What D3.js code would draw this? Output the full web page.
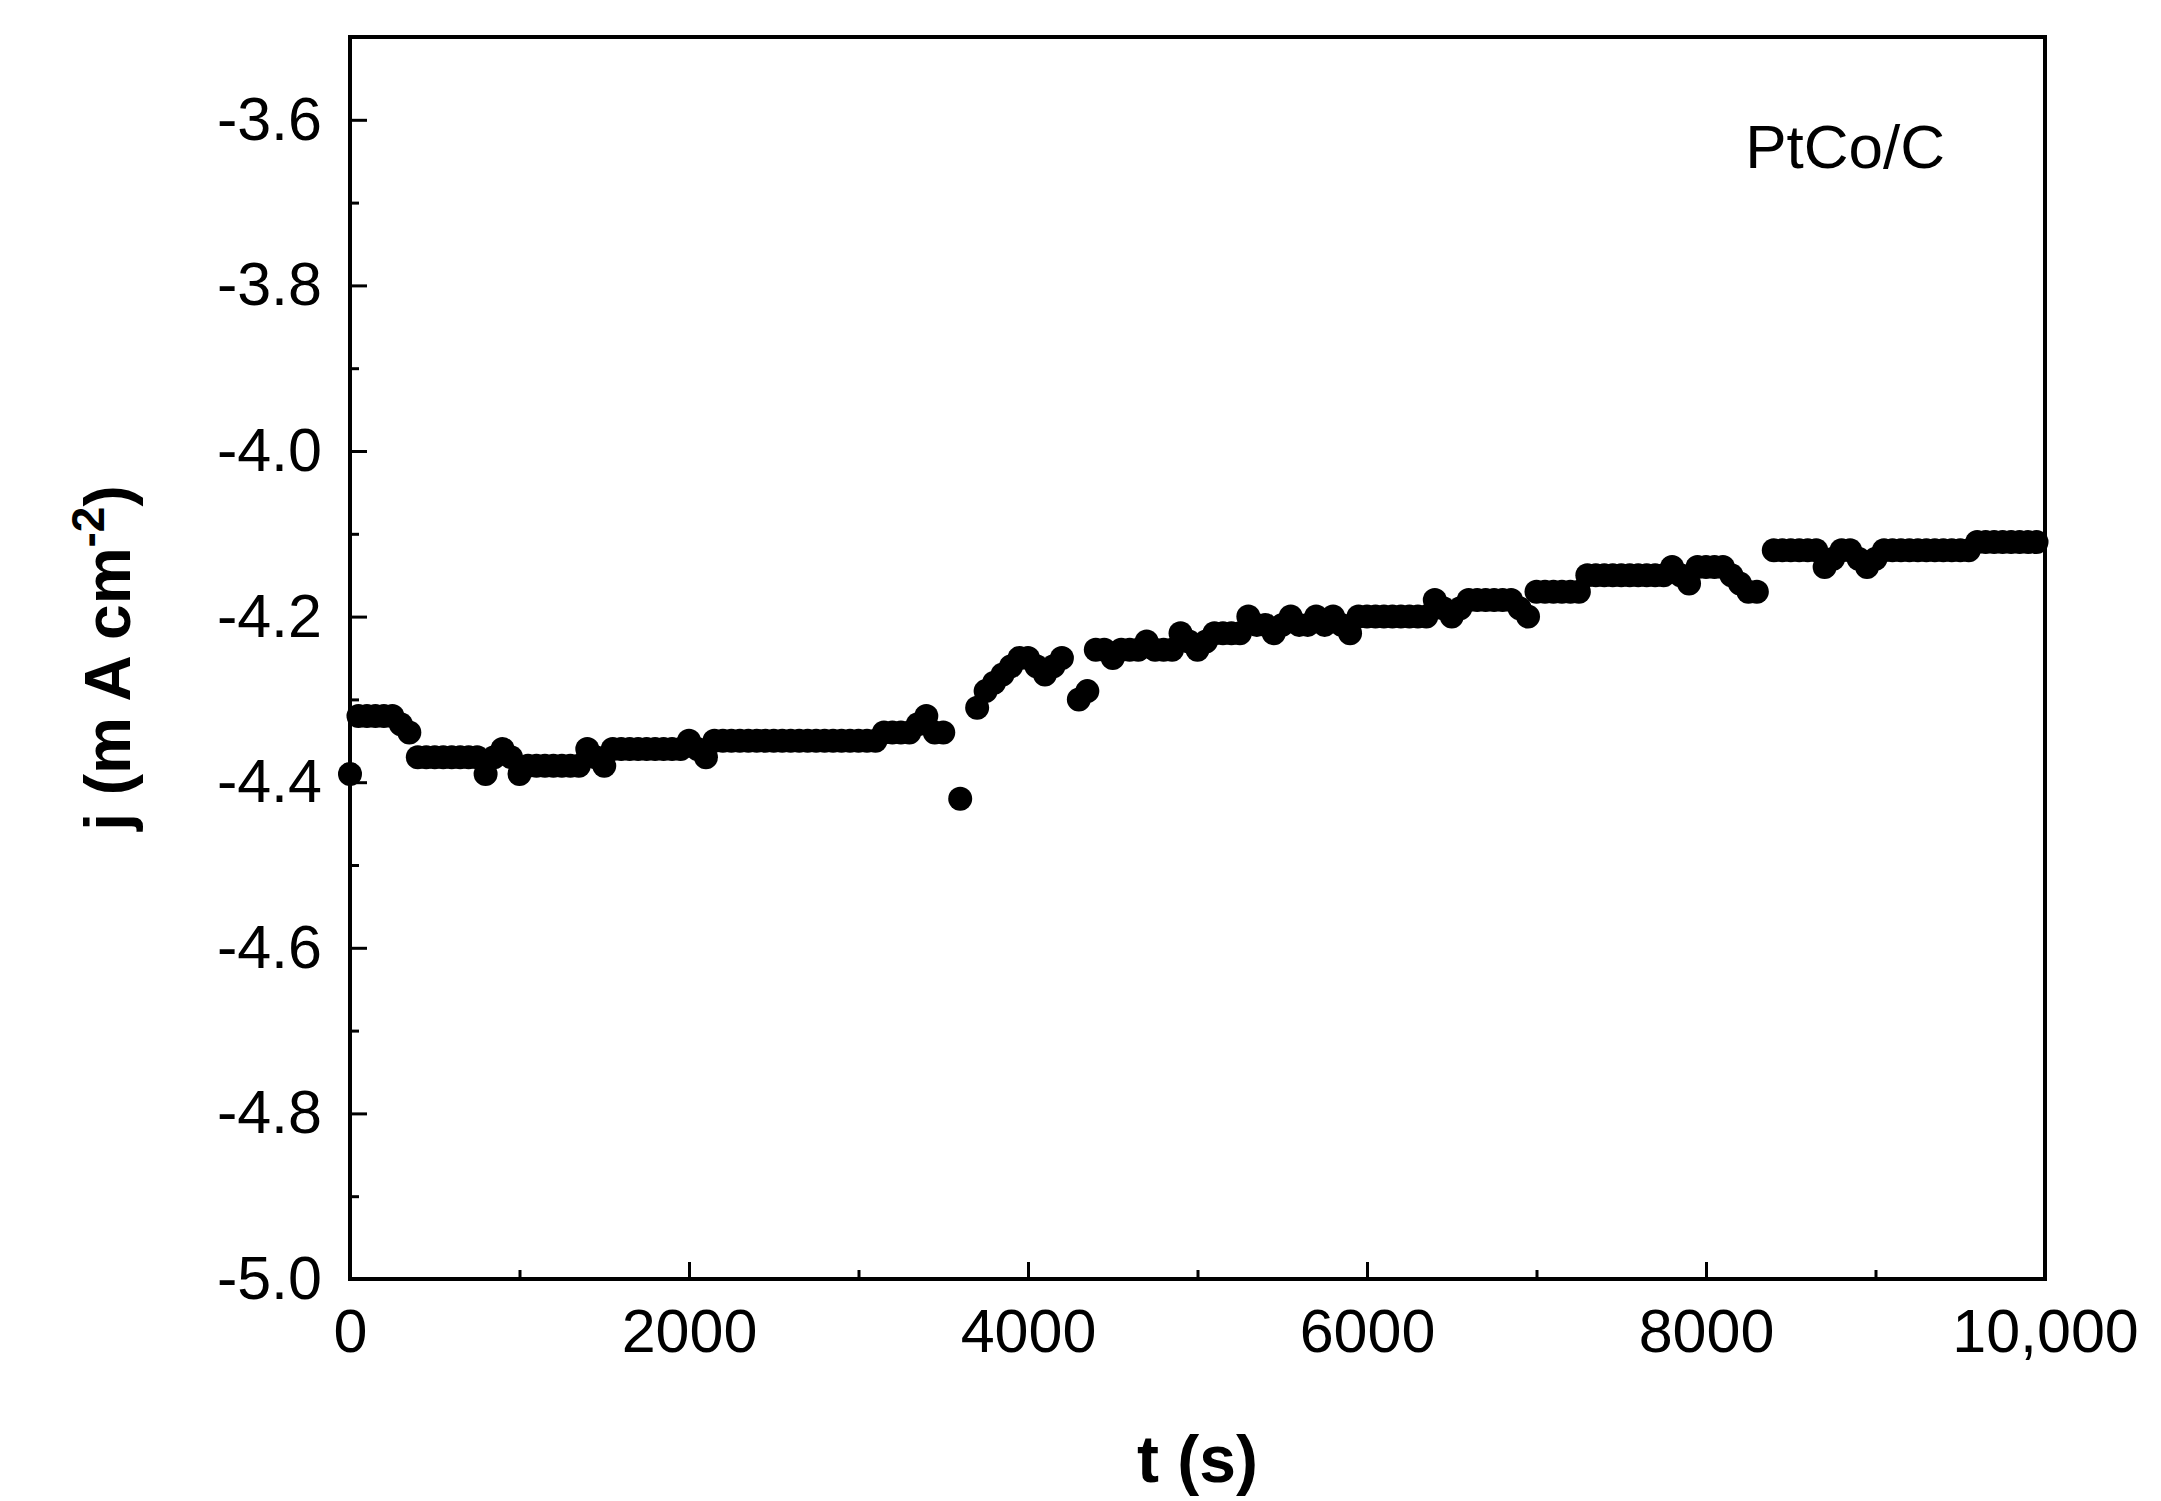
<!DOCTYPE html>
<html><head><meta charset="utf-8">
<script src="https://cdn.jsdelivr.net/npm/d3@7/dist/d3.min.js"></script>
<style>body{margin:0;background:#fff}svg{display:block}text{font-family:"Liberation Sans",Arial,sans-serif}</style>
</head><body><svg id="c" width="2161" height="1501"></svg>
<script>
const times = [0,50,100,150,200,250,300,350,400,450,500,550,600,650,700,750,800,850,900,950,
1000,1050,1100,1150,1200,1250,1300,1350,1400,1450,1500,1550,1600,1650,1700,1750,1800,1850,1900,1950,
2000,2050,2100,2150,2200,2250,2300,2350,2400,2450,2500,2550,2600,2650,2700,2750,2800,2850,2900,2950,
3000,3050,3100,3150,3200,3250,3300,3350,3400,3450,3500,3600,3700,3750,3800,3850,3900,3950,
4000,4050,4100,4150,4200,4300,4350,4400,4450,4500,4550,4600,4650,4700,4750,4800,4850,4900,4950,
5000,5050,5100,5150,5200,5250,5300,5350,5400,5450,5500,5550,5600,5650,5700,5750,5800,5850,5900,5950,
6000,6050,6100,6150,6200,6250,6300,6350,6400,6450,6500,6550,6600,6650,6700,6750,6800,6850,6900,6950,
7000,7050,7100,7150,7200,7250,7300,7350,7400,7450,7500,7550,7600,7650,7700,7750,7800,7850,7900,7950,
8000,8050,8100,8150,8200,8250,8300,8400,8450,8500,8550,8600,8650,8700,8750,8800,8850,8900,8950,
9000,9050,9100,9150,9200,9250,9300,9350,9400,9450,9500,9550,9600,9650,9700,9750,9800,9850,9900,9950];
const values = [-4.39,-4.32,-4.32,-4.32,-4.32,-4.32,-4.33,-4.34,-4.37,-4.37,-4.37,-4.37,-4.37,-4.37,-4.37,-4.37,-4.39,-4.37,-4.36,-4.37,
-4.39,-4.38,-4.38,-4.38,-4.38,-4.38,-4.38,-4.38,-4.36,-4.37,-4.38,-4.36,-4.36,-4.36,-4.36,-4.36,-4.36,-4.36,-4.36,-4.36,
-4.35,-4.36,-4.37,-4.35,-4.35,-4.35,-4.35,-4.35,-4.35,-4.35,-4.35,-4.35,-4.35,-4.35,-4.35,-4.35,-4.35,-4.35,-4.35,-4.35,
-4.35,-4.35,-4.35,-4.34,-4.34,-4.34,-4.34,-4.33,-4.32,-4.34,-4.34,-4.42,-4.31,-4.29,-4.28,-4.27,-4.26,-4.25,
-4.25,-4.26,-4.27,-4.26,-4.25,-4.30,-4.29,-4.24,-4.24,-4.25,-4.24,-4.24,-4.24,-4.23,-4.24,-4.24,-4.24,-4.22,-4.23,
-4.24,-4.23,-4.22,-4.22,-4.22,-4.22,-4.20,-4.21,-4.21,-4.22,-4.21,-4.20,-4.21,-4.21,-4.20,-4.21,-4.20,-4.21,-4.22,-4.20,
-4.20,-4.20,-4.20,-4.20,-4.20,-4.20,-4.20,-4.20,-4.18,-4.19,-4.20,-4.19,-4.18,-4.18,-4.18,-4.18,-4.18,-4.18,-4.19,-4.20,
-4.17,-4.17,-4.17,-4.17,-4.17,-4.17,-4.15,-4.15,-4.15,-4.15,-4.15,-4.15,-4.15,-4.15,-4.15,-4.15,-4.14,-4.15,-4.16,-4.14,
-4.14,-4.14,-4.14,-4.15,-4.16,-4.17,-4.17,-4.12,-4.12,-4.12,-4.12,-4.12,-4.12,-4.14,-4.13,-4.12,-4.12,-4.13,-4.14,
-4.13,-4.12,-4.12,-4.12,-4.12,-4.12,-4.12,-4.12,-4.12,-4.12,-4.12,-4.12,-4.11,-4.11,-4.11,-4.11,-4.11,-4.11,-4.11,-4.11];
const xTicks = [0,2000,4000,6000,8000,10000];
const xTickLabels = ["0","2000","4000","6000","8000","10,000"];
const yTicks = [-5.0,-4.8,-4.6,-4.4,-4.2,-4.0,-3.8,-3.6];
const xMinor = [1000,3000,5000,7000,9000];
const yMinor = [-4.9,-4.7,-4.5,-4.3,-4.1,-3.9,-3.7];
const label = "PtCo/C";

const L=350,R=2045,T=37,B=1279;
const svg=d3.select("#c");
const x=d3.scaleLinear().domain([0,10000]).range([L,R]);
const y=d3.scaleLinear().domain([-5.0,-3.5]).range([B,T]);

svg.selectAll("circle.d").data(times).join("circle").attr("class","d")
  .attr("cx",(d)=>x(d)).attr("cy",(d,i)=>y(values[i])).attr("r",12).attr("fill","#000");

const gx=svg.append("g").attr("transform",`translate(0,${B})`);
gx.call(d3.axisBottom(x).tickValues(xTicks).tickSize(-17).tickFormat((d,i)=>xTickLabels[i]).tickPadding(30));
gx.append("g").call(d3.axisBottom(x).tickValues(xMinor).tickSize(-9).tickFormat(""));
const gy=svg.append("g").attr("transform",`translate(${L},0)`);
gy.call(d3.axisLeft(y).tickValues(yTicks).tickSize(-17).tickFormat(d=>d.toFixed(1)).tickPadding(28));
gy.append("g").call(d3.axisLeft(y).tickValues(yMinor).tickSize(-9).tickFormat(""));
svg.selectAll(".domain").remove();
svg.selectAll(".tick line").attr("stroke","#000").attr("stroke-width",3);
svg.selectAll(".tick text").attr("font-size",61).attr("fill","#000").style("font-family","Liberation Sans, Arial, sans-serif");
svg.append("rect").attr("x",L).attr("y",T).attr("width",R-L).attr("height",B-T).attr("fill","none").attr("stroke","#000").attr("stroke-width",4);

svg.append("text").attr("x",(L+R)/2).attr("y",1482).attr("text-anchor","middle").attr("font-size",66).attr("font-weight","bold").text("t (s)");
const yt=svg.append("text").attr("transform",`translate(130,${(T+B)/2}) rotate(-90)`).attr("text-anchor","middle").attr("font-size",64).attr("font-weight","bold");
yt.append("tspan").text("j (m A cm");
yt.append("tspan").attr("dy",-26).attr("font-size",46).text("-2");
yt.append("tspan").attr("dy",26).text(")");
svg.append("text").attr("x",1945).attr("y",168).attr("text-anchor","end").attr("font-size",62).text(label);
</script></body></html>
